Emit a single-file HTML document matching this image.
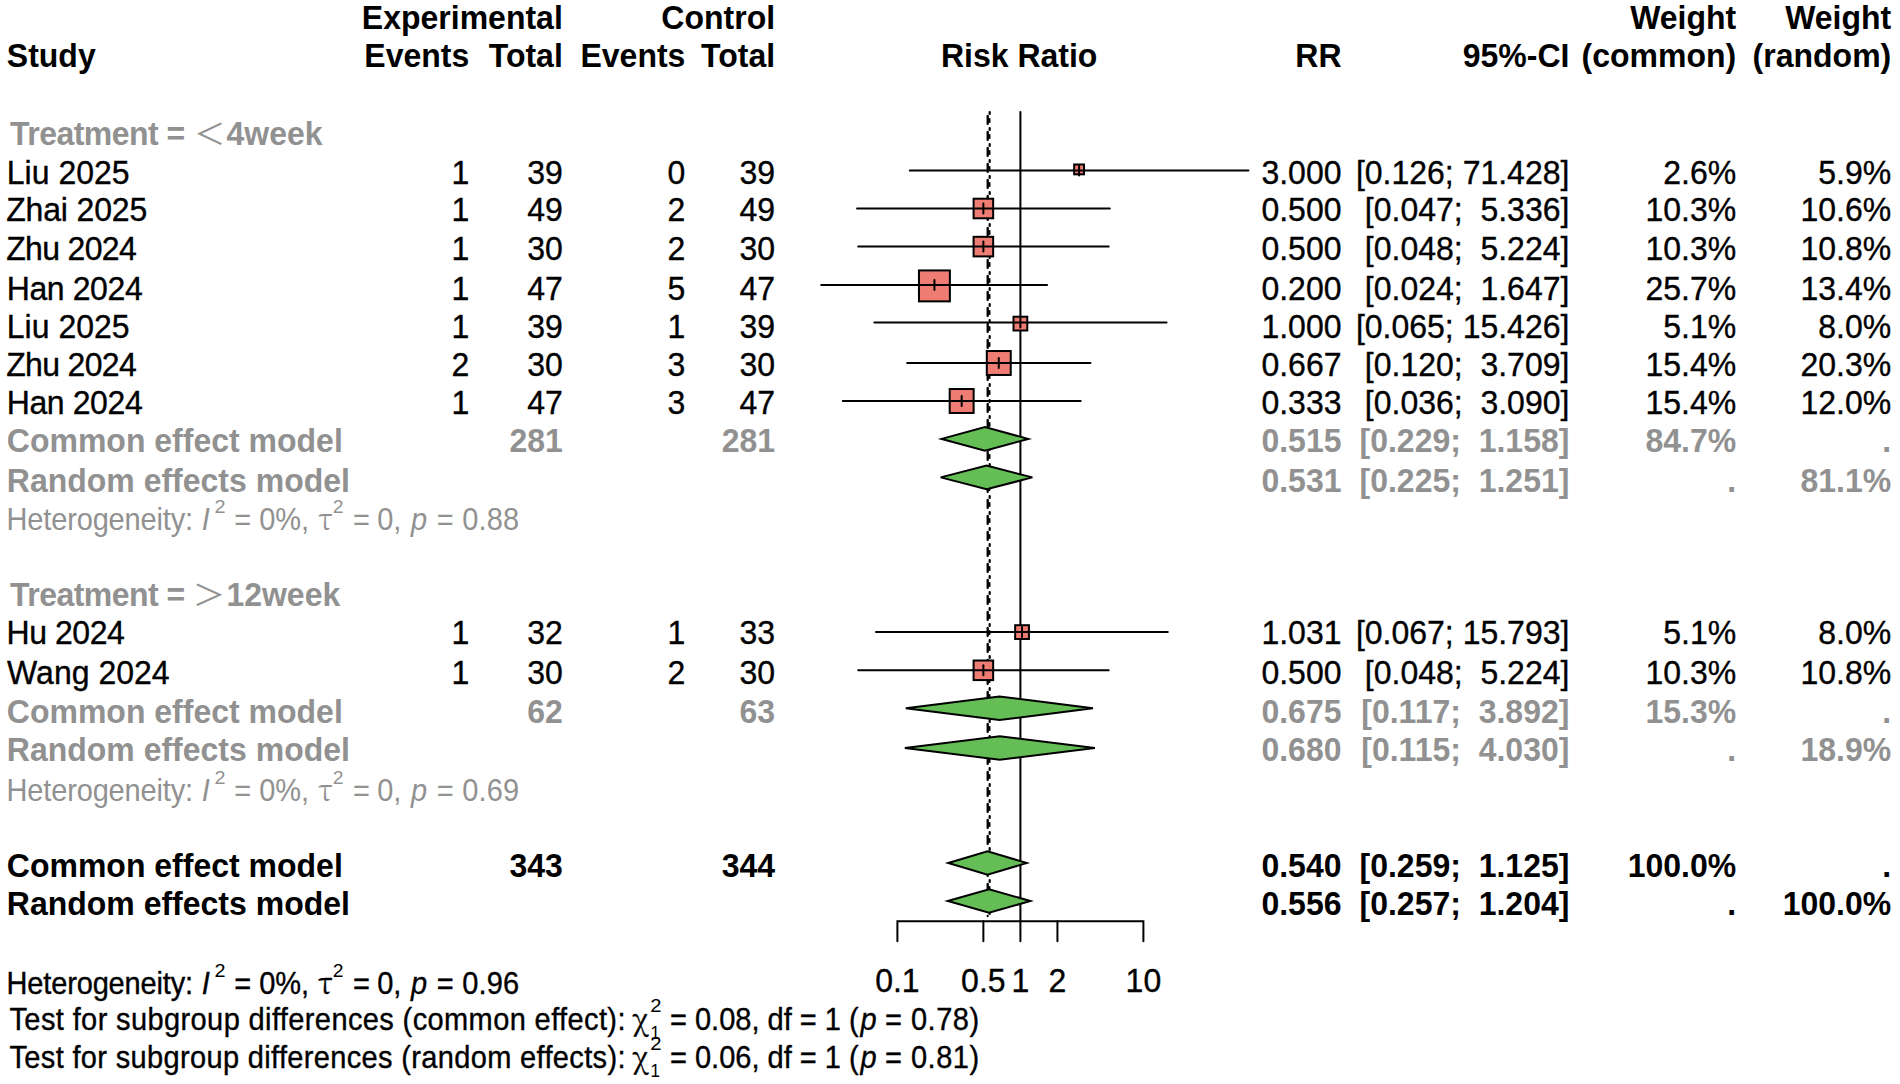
<!DOCTYPE html>
<html><head><meta charset="utf-8"><title>Forest plot</title>
<style>
html,body{margin:0;padding:0;background:#fff;}
svg{display:block;}
text{white-space:pre;}
</style></head>
<body>
<svg width="1900" height="1084" viewBox="0 0 1900 1084" xml:space="preserve" font-family="'Liberation Sans', Arial, 'Noto Sans CJK SC', sans-serif" font-size="32">
<rect width="1900" height="1084" fill="#fff"/>
<line x1="1020.4" y1="112" x2="1020.4" y2="921.2" stroke="#000" stroke-width="2" stroke-linecap="round"/>
<line x1="987.7" y1="111" x2="987.7" y2="916" stroke="#000" stroke-width="2.3" stroke-linecap="round" stroke-dasharray="8 8" stroke-dashoffset="11.1"/>
<line x1="989.7" y1="111" x2="989.7" y2="916" stroke="#000" stroke-width="2.2" stroke-linecap="round" stroke-dasharray="2 14" stroke-dashoffset="15"/>
<line x1="989.4" y1="111" x2="989.4" y2="916" stroke="#000" stroke-width="2.2" stroke-linecap="round" stroke-dasharray="3 13" stroke-dashoffset="8"/>
<rect x="1074.17" y="164.48" width="9.84" height="9.84" fill="#F07D73" stroke="#000" stroke-width="2" stroke-linecap="round"/>
<line x1="909.75" y1="170.4" x2="1248.43" y2="170.4" stroke="#000" stroke-width="2" stroke-linecap="round"/>
<line x1="1079.09" y1="165.4" x2="1079.09" y2="175.4" stroke="#000" stroke-width="2" stroke-linecap="round"/>
<rect x="973.58" y="198.71" width="19.58" height="19.58" fill="#F07D73" stroke="#000" stroke-width="2" stroke-linecap="round"/>
<line x1="857.07" y1="208.5" x2="1109.85" y2="208.5" stroke="#000" stroke-width="2" stroke-linecap="round"/>
<line x1="983.37" y1="203.5" x2="983.37" y2="213.5" stroke="#000" stroke-width="2" stroke-linecap="round"/>
<rect x="973.58" y="236.81" width="19.58" height="19.58" fill="#F07D73" stroke="#000" stroke-width="2" stroke-linecap="round"/>
<line x1="858.19" y1="246.6" x2="1108.71" y2="246.6" stroke="#000" stroke-width="2" stroke-linecap="round"/>
<line x1="983.37" y1="241.6" x2="983.37" y2="251.6" stroke="#000" stroke-width="2" stroke-linecap="round"/>
<rect x="918.96" y="270.44" width="30.92" height="30.92" fill="#F07D73" stroke="#000" stroke-width="2" stroke-linecap="round"/>
<line x1="821.17" y1="284.9" x2="1047.05" y2="284.9" stroke="#000" stroke-width="2" stroke-linecap="round"/>
<line x1="934.43" y1="279.9" x2="934.43" y2="289.9" stroke="#000" stroke-width="2" stroke-linecap="round"/>
<rect x="1013.51" y="316.71" width="13.78" height="13.78" fill="#F07D73" stroke="#000" stroke-width="2" stroke-linecap="round"/>
<line x1="874.39" y1="322.6" x2="1166.56" y2="322.6" stroke="#000" stroke-width="2" stroke-linecap="round"/>
<line x1="1020.40" y1="317.6" x2="1020.40" y2="327.6" stroke="#000" stroke-width="2" stroke-linecap="round"/>
<rect x="986.80" y="351.03" width="23.94" height="23.94" fill="#F07D73" stroke="#000" stroke-width="2" stroke-linecap="round"/>
<line x1="907.14" y1="363.0" x2="1090.42" y2="363.0" stroke="#000" stroke-width="2" stroke-linecap="round"/>
<line x1="998.77" y1="358.0" x2="998.77" y2="368.0" stroke="#000" stroke-width="2" stroke-linecap="round"/>
<rect x="949.69" y="389.03" width="23.94" height="23.94" fill="#F07D73" stroke="#000" stroke-width="2" stroke-linecap="round"/>
<line x1="842.83" y1="401.0" x2="1080.66" y2="401.0" stroke="#000" stroke-width="2" stroke-linecap="round"/>
<line x1="961.66" y1="396.0" x2="961.66" y2="406.0" stroke="#000" stroke-width="2" stroke-linecap="round"/>
<rect x="1015.14" y="625.21" width="13.78" height="13.78" fill="#F07D73" stroke="#000" stroke-width="2" stroke-linecap="round"/>
<line x1="876.01" y1="632.1" x2="1167.81" y2="632.1" stroke="#000" stroke-width="2" stroke-linecap="round"/>
<line x1="1022.03" y1="627.1" x2="1022.03" y2="637.1" stroke="#000" stroke-width="2" stroke-linecap="round"/>
<rect x="973.58" y="660.51" width="19.58" height="19.58" fill="#F07D73" stroke="#000" stroke-width="2" stroke-linecap="round"/>
<line x1="858.19" y1="670.3" x2="1108.71" y2="670.3" stroke="#000" stroke-width="2" stroke-linecap="round"/>
<line x1="983.37" y1="665.3" x2="983.37" y2="675.3" stroke="#000" stroke-width="2" stroke-linecap="round"/>
<polygon points="941.66,438.9 984.95,427.09999999999997 1028.24,438.9 984.95,450.7" fill="#64BE55" stroke="#000" stroke-width="2" stroke-linejoin="miter"/>
<polygon points="940.72,477.4 986.59,465.59999999999997 1032.36,477.4 986.59,489.2" fill="#64BE55" stroke="#000" stroke-width="2" stroke-linejoin="miter"/>
<polygon points="905.79,708.2 999.40,696.4000000000001 1092.99,708.2 999.40,720.0" fill="#64BE55" stroke="#000" stroke-width="2" stroke-linejoin="miter"/>
<polygon points="904.87,748.0 999.80,736.2 1094.85,748.0 999.80,759.8" fill="#64BE55" stroke="#000" stroke-width="2" stroke-linejoin="miter"/>
<polygon points="948.24,863.0 987.48,851.2 1026.69,863.0 987.48,874.8" fill="#64BE55" stroke="#000" stroke-width="2" stroke-linejoin="miter"/>
<polygon points="947.82,901.0 989.04,889.2 1030.32,901.0 989.04,912.8" fill="#64BE55" stroke="#000" stroke-width="2" stroke-linejoin="miter"/>
<polyline points="897.40,941.3 897.40,921.2 1143.40,921.2 1143.40,941.3" fill="none" stroke="#000" stroke-width="2" stroke-linecap="round"/>
<line x1="983.37" y1="921.2" x2="983.37" y2="941.3" stroke="#000" stroke-width="2" stroke-linecap="round"/>
<line x1="1020.40" y1="921.2" x2="1020.40" y2="941.3" stroke="#000" stroke-width="2" stroke-linecap="round"/>
<line x1="1057.43" y1="921.2" x2="1057.43" y2="941.3" stroke="#000" stroke-width="2" stroke-linecap="round"/>
<g transform="scale(1,1.06)">
<text x="562.80" y="27.17" text-anchor="end" font-weight="bold">Experimental</text>
<text x="775.10" y="27.17" text-anchor="end" font-weight="bold">Control</text>
<text x="1736.25" y="27.17" text-anchor="end" font-weight="bold">Weight</text>
<text x="1891.25" y="27.17" text-anchor="end" font-weight="bold">Weight</text>
<text x="6.80" y="62.83" font-weight="bold">Study</text>
<text x="469.30" y="62.83" text-anchor="end" font-weight="bold">Events</text>
<text x="562.80" y="62.83" text-anchor="end" font-weight="bold">Total</text>
<text x="685.40" y="62.83" text-anchor="end" font-weight="bold">Events</text>
<text x="775.10" y="62.83" text-anchor="end" font-weight="bold">Total</text>
<text x="1341.50" y="62.83" text-anchor="end" font-weight="bold">RR</text>
<text x="1569.39" y="62.83" text-anchor="end" font-weight="bold">95%-CI</text>
<text x="1736.25" y="62.83" text-anchor="end" font-weight="bold">(common)</text>
<text x="1891.25" y="62.83" text-anchor="end" font-weight="bold">(random)</text>
<text x="1019.20" y="63.68" text-anchor="middle" font-weight="bold">Risk Ratio</text>
<text x="10.00" y="136.70" font-size="32" font-weight="bold" fill="#919191" textLength="175.09" lengthAdjust="spacing">Treatment =</text>
<text x="193.70" y="136.70" font-size="27.5" font-family="'Noto Sans CJK SC', sans-serif" fill="#919191" textLength="31.68" lengthAdjust="spacingAndGlyphs">＜</text>
<text x="226.50" y="136.70" font-size="32" font-weight="bold" fill="#919191">4week</text>
<text x="10.00" y="571.98" font-size="32" font-weight="bold" fill="#919191" textLength="175.09" lengthAdjust="spacing">Treatment =</text>
<text x="192.39" y="571.98" font-size="27.5" font-family="'Noto Sans CJK SC', sans-serif" fill="#919191" textLength="33.12" lengthAdjust="spacingAndGlyphs">＞</text>
<text x="226.40" y="571.98" font-size="32" font-weight="bold" fill="#919191">12week</text>
<text x="6.80" y="173.30" font-size="32" fill="#000" stroke="#000" stroke-width="0.35">Liu 2025</text>
<text x="469.30" y="173.30" text-anchor="end" stroke="#000" stroke-width="0.35">1</text>
<text x="562.80" y="173.30" text-anchor="end" stroke="#000" stroke-width="0.35">39</text>
<text x="685.40" y="173.30" text-anchor="end" stroke="#000" stroke-width="0.35">0</text>
<text x="775.10" y="173.30" text-anchor="end" stroke="#000" stroke-width="0.35">39</text>
<text x="1341.50" y="173.30" text-anchor="end" stroke="#000" stroke-width="0.35">3.000</text>
<text x="1569.39" y="173.30" text-anchor="end" stroke="#000" stroke-width="0.35">[0.126; 71.428]</text>
<text x="1736.25" y="173.30" text-anchor="end" stroke="#000" stroke-width="0.35">2.6%</text>
<text x="1891.25" y="173.30" text-anchor="end" stroke="#000" stroke-width="0.35">5.9%</text>
<text x="6.20" y="208.96" font-size="32" fill="#000" stroke="#000" stroke-width="0.35" textLength="141.10" lengthAdjust="spacing">Zhai 2025</text>
<text x="469.30" y="208.96" text-anchor="end" stroke="#000" stroke-width="0.35">1</text>
<text x="562.80" y="208.96" text-anchor="end" stroke="#000" stroke-width="0.35">49</text>
<text x="685.40" y="208.96" text-anchor="end" stroke="#000" stroke-width="0.35">2</text>
<text x="775.10" y="208.96" text-anchor="end" stroke="#000" stroke-width="0.35">49</text>
<text x="1341.50" y="208.96" text-anchor="end" stroke="#000" stroke-width="0.35">0.500</text>
<text x="1569.39" y="208.96" text-anchor="end" stroke="#000" stroke-width="0.35">[0.047;  5.336]</text>
<text x="1736.25" y="208.96" text-anchor="end" stroke="#000" stroke-width="0.35">10.3%</text>
<text x="1891.25" y="208.96" text-anchor="end" stroke="#000" stroke-width="0.35">10.6%</text>
<text x="6.20" y="244.91" font-size="32" fill="#000" stroke="#000" stroke-width="0.35" textLength="130.60" lengthAdjust="spacing">Zhu 2024</text>
<text x="469.30" y="244.91" text-anchor="end" stroke="#000" stroke-width="0.35">1</text>
<text x="562.80" y="244.91" text-anchor="end" stroke="#000" stroke-width="0.35">30</text>
<text x="685.40" y="244.91" text-anchor="end" stroke="#000" stroke-width="0.35">2</text>
<text x="775.10" y="244.91" text-anchor="end" stroke="#000" stroke-width="0.35">30</text>
<text x="1341.50" y="244.91" text-anchor="end" stroke="#000" stroke-width="0.35">0.500</text>
<text x="1569.39" y="244.91" text-anchor="end" stroke="#000" stroke-width="0.35">[0.048;  5.224]</text>
<text x="1736.25" y="244.91" text-anchor="end" stroke="#000" stroke-width="0.35">10.3%</text>
<text x="1891.25" y="244.91" text-anchor="end" stroke="#000" stroke-width="0.35">10.8%</text>
<text x="6.80" y="283.11" font-size="32" fill="#000" stroke="#000" stroke-width="0.35" textLength="135.90" lengthAdjust="spacing">Han 2024</text>
<text x="469.30" y="283.11" text-anchor="end" stroke="#000" stroke-width="0.35">1</text>
<text x="562.80" y="283.11" text-anchor="end" stroke="#000" stroke-width="0.35">47</text>
<text x="685.40" y="283.11" text-anchor="end" stroke="#000" stroke-width="0.35">5</text>
<text x="775.10" y="283.11" text-anchor="end" stroke="#000" stroke-width="0.35">47</text>
<text x="1341.50" y="283.11" text-anchor="end" stroke="#000" stroke-width="0.35">0.200</text>
<text x="1569.39" y="283.11" text-anchor="end" stroke="#000" stroke-width="0.35">[0.024;  1.647]</text>
<text x="1736.25" y="283.11" text-anchor="end" stroke="#000" stroke-width="0.35">25.7%</text>
<text x="1891.25" y="283.11" text-anchor="end" stroke="#000" stroke-width="0.35">13.4%</text>
<text x="6.80" y="318.49" font-size="32" fill="#000" stroke="#000" stroke-width="0.35">Liu 2025</text>
<text x="469.30" y="318.49" text-anchor="end" stroke="#000" stroke-width="0.35">1</text>
<text x="562.80" y="318.49" text-anchor="end" stroke="#000" stroke-width="0.35">39</text>
<text x="685.40" y="318.49" text-anchor="end" stroke="#000" stroke-width="0.35">1</text>
<text x="775.10" y="318.49" text-anchor="end" stroke="#000" stroke-width="0.35">39</text>
<text x="1341.50" y="318.49" text-anchor="end" stroke="#000" stroke-width="0.35">1.000</text>
<text x="1569.39" y="318.49" text-anchor="end" stroke="#000" stroke-width="0.35">[0.065; 15.426]</text>
<text x="1736.25" y="318.49" text-anchor="end" stroke="#000" stroke-width="0.35">5.1%</text>
<text x="1891.25" y="318.49" text-anchor="end" stroke="#000" stroke-width="0.35">8.0%</text>
<text x="6.20" y="354.43" font-size="32" fill="#000" stroke="#000" stroke-width="0.35" textLength="130.60" lengthAdjust="spacing">Zhu 2024</text>
<text x="469.30" y="354.43" text-anchor="end" stroke="#000" stroke-width="0.35">2</text>
<text x="562.80" y="354.43" text-anchor="end" stroke="#000" stroke-width="0.35">30</text>
<text x="685.40" y="354.43" text-anchor="end" stroke="#000" stroke-width="0.35">3</text>
<text x="775.10" y="354.43" text-anchor="end" stroke="#000" stroke-width="0.35">30</text>
<text x="1341.50" y="354.43" text-anchor="end" stroke="#000" stroke-width="0.35">0.667</text>
<text x="1569.39" y="354.43" text-anchor="end" stroke="#000" stroke-width="0.35">[0.120;  3.709]</text>
<text x="1736.25" y="354.43" text-anchor="end" stroke="#000" stroke-width="0.35">15.4%</text>
<text x="1891.25" y="354.43" text-anchor="end" stroke="#000" stroke-width="0.35">20.3%</text>
<text x="6.80" y="390.19" font-size="32" fill="#000" stroke="#000" stroke-width="0.35" textLength="135.90" lengthAdjust="spacing">Han 2024</text>
<text x="469.30" y="390.19" text-anchor="end" stroke="#000" stroke-width="0.35">1</text>
<text x="562.80" y="390.19" text-anchor="end" stroke="#000" stroke-width="0.35">47</text>
<text x="685.40" y="390.19" text-anchor="end" stroke="#000" stroke-width="0.35">3</text>
<text x="775.10" y="390.19" text-anchor="end" stroke="#000" stroke-width="0.35">47</text>
<text x="1341.50" y="390.19" text-anchor="end" stroke="#000" stroke-width="0.35">0.333</text>
<text x="1569.39" y="390.19" text-anchor="end" stroke="#000" stroke-width="0.35">[0.036;  3.090]</text>
<text x="1736.25" y="390.19" text-anchor="end" stroke="#000" stroke-width="0.35">15.4%</text>
<text x="1891.25" y="390.19" text-anchor="end" stroke="#000" stroke-width="0.35">12.0%</text>
<text x="6.50" y="607.92" font-size="32" fill="#000" stroke="#000" stroke-width="0.35" textLength="118.40" lengthAdjust="spacing">Hu 2024</text>
<text x="469.30" y="607.92" text-anchor="end" stroke="#000" stroke-width="0.35">1</text>
<text x="562.80" y="607.92" text-anchor="end" stroke="#000" stroke-width="0.35">32</text>
<text x="685.40" y="607.92" text-anchor="end" stroke="#000" stroke-width="0.35">1</text>
<text x="775.10" y="607.92" text-anchor="end" stroke="#000" stroke-width="0.35">33</text>
<text x="1341.50" y="607.92" text-anchor="end" stroke="#000" stroke-width="0.35">1.031</text>
<text x="1569.39" y="607.92" text-anchor="end" stroke="#000" stroke-width="0.35">[0.067; 15.793]</text>
<text x="1736.25" y="607.92" text-anchor="end" stroke="#000" stroke-width="0.35">5.1%</text>
<text x="1891.25" y="607.92" text-anchor="end" stroke="#000" stroke-width="0.35">8.0%</text>
<text x="7.10" y="645.28" font-size="32" fill="#000" stroke="#000" stroke-width="0.35">Wang 2024</text>
<text x="469.30" y="645.28" text-anchor="end" stroke="#000" stroke-width="0.35">1</text>
<text x="562.80" y="645.28" text-anchor="end" stroke="#000" stroke-width="0.35">30</text>
<text x="685.40" y="645.28" text-anchor="end" stroke="#000" stroke-width="0.35">2</text>
<text x="775.10" y="645.28" text-anchor="end" stroke="#000" stroke-width="0.35">30</text>
<text x="1341.50" y="645.28" text-anchor="end" stroke="#000" stroke-width="0.35">0.500</text>
<text x="1569.39" y="645.28" text-anchor="end" stroke="#000" stroke-width="0.35">[0.048;  5.224]</text>
<text x="1736.25" y="645.28" text-anchor="end" stroke="#000" stroke-width="0.35">10.3%</text>
<text x="1891.25" y="645.28" text-anchor="end" stroke="#000" stroke-width="0.35">10.8%</text>
<text x="6.80" y="426.04" font-weight="bold" fill="#919191">Common effect model</text>
<text x="562.80" y="426.04" text-anchor="end" font-weight="bold" fill="#919191">281</text>
<text x="775.10" y="426.04" text-anchor="end" font-weight="bold" fill="#919191">281</text>
<text x="1341.50" y="426.04" text-anchor="end" font-weight="bold" fill="#919191">0.515</text>
<text x="1569.39" y="426.04" text-anchor="end" font-weight="bold" fill="#919191">[0.229;  1.158]</text>
<text x="1736.25" y="426.04" text-anchor="end" font-weight="bold" fill="#919191">84.7%</text>
<text x="1891.25" y="426.04" text-anchor="end" font-weight="bold" fill="#919191">.</text>
<text x="6.80" y="464.25" font-weight="bold" fill="#919191">Random effects model</text>
<text x="1341.50" y="464.25" text-anchor="end" font-weight="bold" fill="#919191">0.531</text>
<text x="1569.39" y="464.25" text-anchor="end" font-weight="bold" fill="#919191">[0.225;  1.251]</text>
<text x="1736.25" y="464.25" text-anchor="end" font-weight="bold" fill="#919191">.</text>
<text x="1891.25" y="464.25" text-anchor="end" font-weight="bold" fill="#919191">81.1%</text>
<text x="6.80" y="682.26" font-weight="bold" fill="#919191">Common effect model</text>
<text x="562.80" y="682.26" text-anchor="end" font-weight="bold" fill="#919191">62</text>
<text x="775.10" y="682.26" text-anchor="end" font-weight="bold" fill="#919191">63</text>
<text x="1341.50" y="682.26" text-anchor="end" font-weight="bold" fill="#919191">0.675</text>
<text x="1569.39" y="682.26" text-anchor="end" font-weight="bold" fill="#919191">[0.117;  3.892]</text>
<text x="1736.25" y="682.26" text-anchor="end" font-weight="bold" fill="#919191">15.3%</text>
<text x="1891.25" y="682.26" text-anchor="end" font-weight="bold" fill="#919191">.</text>
<text x="6.80" y="717.74" font-weight="bold" fill="#919191">Random effects model</text>
<text x="1341.50" y="717.74" text-anchor="end" font-weight="bold" fill="#919191">0.680</text>
<text x="1569.39" y="717.74" text-anchor="end" font-weight="bold" fill="#919191">[0.115;  4.030]</text>
<text x="1736.25" y="717.74" text-anchor="end" font-weight="bold" fill="#919191">.</text>
<text x="1891.25" y="717.74" text-anchor="end" font-weight="bold" fill="#919191">18.9%</text>
<text x="6.80" y="827.45" font-weight="bold">Common effect model</text>
<text x="562.80" y="827.45" text-anchor="end" font-weight="bold">343</text>
<text x="775.10" y="827.45" text-anchor="end" font-weight="bold">344</text>
<text x="1341.50" y="827.45" text-anchor="end" font-weight="bold">0.540</text>
<text x="1569.39" y="827.45" text-anchor="end" font-weight="bold">[0.259;  1.125]</text>
<text x="1736.25" y="827.45" text-anchor="end" font-weight="bold">100.0%</text>
<text x="1891.25" y="827.45" text-anchor="end" font-weight="bold">.</text>
<text x="6.80" y="862.92" font-weight="bold">Random effects model</text>
<text x="1341.50" y="862.92" text-anchor="end" font-weight="bold">0.556</text>
<text x="1569.39" y="862.92" text-anchor="end" font-weight="bold">[0.257;  1.204]</text>
<text x="1736.25" y="862.92" text-anchor="end" font-weight="bold">.</text>
<text x="1891.25" y="862.92" text-anchor="end" font-weight="bold">100.0%</text>
<text x="897.40" y="936.04" text-anchor="middle" stroke="#000" stroke-width="0.35">0.1</text>
<text x="983.37" y="936.04" text-anchor="middle" stroke="#000" stroke-width="0.35">0.5</text>
<text x="1020.40" y="936.04" text-anchor="middle" stroke="#000" stroke-width="0.35">1</text>
<text x="1057.43" y="936.04" text-anchor="middle" stroke="#000" stroke-width="0.35">2</text>
<text x="1143.40" y="936.04" text-anchor="middle" stroke="#000" stroke-width="0.35">10</text>
<text x="6.50" y="500.00" font-size="29" fill="#919191" textLength="186.66" lengthAdjust="spacing">Heterogeneity:</text>
<text x="201.80" y="500.00" font-size="29" font-style="italic" fill="#919191">I</text>
<text x="214.50" y="483.96" font-size="17" fill="#919191" textLength="11.03" lengthAdjust="spacingAndGlyphs">2</text>
<text x="234.20" y="500.00" font-size="29" fill="#919191">= 0%,</text>
<text x="318.00" y="500.00" font-size="29" font-family="'Noto Serif CJK SC', serif" fill="#919191">τ</text>
<text x="332.80" y="483.96" font-size="17" fill="#919191" textLength="10.72" lengthAdjust="spacingAndGlyphs">2</text>
<text x="353.00" y="500.00" font-size="29" fill="#919191" textLength="48.26" lengthAdjust="spacing">= 0,</text>
<text x="411.00" y="500.00" font-size="29" font-style="italic" fill="#919191">p</text>
<text x="436.80" y="500.00" font-size="29" fill="#919191" textLength="82.33" lengthAdjust="spacing">= 0.88</text>
<text x="6.50" y="755.38" font-size="29" fill="#919191" textLength="186.66" lengthAdjust="spacing">Heterogeneity:</text>
<text x="201.80" y="755.38" font-size="29" font-style="italic" fill="#919191">I</text>
<text x="214.50" y="739.34" font-size="17" fill="#919191" textLength="11.03" lengthAdjust="spacingAndGlyphs">2</text>
<text x="234.20" y="755.38" font-size="29" fill="#919191">= 0%,</text>
<text x="318.00" y="755.38" font-size="29" font-family="'Noto Serif CJK SC', serif" fill="#919191">τ</text>
<text x="332.80" y="739.34" font-size="17" fill="#919191" textLength="10.72" lengthAdjust="spacingAndGlyphs">2</text>
<text x="353.00" y="755.38" font-size="29" fill="#919191" textLength="48.26" lengthAdjust="spacing">= 0,</text>
<text x="411.00" y="755.38" font-size="29" font-style="italic" fill="#919191">p</text>
<text x="436.80" y="755.38" font-size="29" fill="#919191" textLength="82.33" lengthAdjust="spacing">= 0.69</text>
<text x="6.50" y="937.64" font-size="29" fill="#000" stroke="#000" stroke-width="0.35" textLength="186.66" lengthAdjust="spacing">Heterogeneity:</text>
<text x="201.80" y="937.64" font-size="29" font-style="italic" fill="#000" stroke="#000" stroke-width="0.35">I</text>
<text x="214.50" y="921.60" font-size="17" fill="#000" textLength="11.03" lengthAdjust="spacingAndGlyphs">2</text>
<text x="234.20" y="937.64" font-size="29" fill="#000" stroke="#000" stroke-width="0.35">= 0%,</text>
<text x="318.00" y="937.64" font-size="29" font-family="'Noto Serif CJK SC', serif" fill="#000" stroke="#000" stroke-width="0.35">τ</text>
<text x="332.80" y="921.60" font-size="17" fill="#000" textLength="10.72" lengthAdjust="spacingAndGlyphs">2</text>
<text x="353.00" y="937.64" font-size="29" fill="#000" stroke="#000" stroke-width="0.35" textLength="48.26" lengthAdjust="spacing">= 0,</text>
<text x="411.00" y="937.64" font-size="29" font-style="italic" fill="#000" stroke="#000" stroke-width="0.35">p</text>
<text x="436.80" y="937.64" font-size="29" fill="#000" stroke="#000" stroke-width="0.35" textLength="82.33" lengthAdjust="spacing">= 0.96</text>
<text x="9.50" y="971.79" font-size="29" fill="#000" stroke="#000" stroke-width="0.35" textLength="615.96" lengthAdjust="spacing">Test for subgroup differences (common effect):</text>
<text x="632.40" y="971.79" font-size="29" font-family="'Noto Serif CJK SC', serif" fill="#000" stroke="#000" stroke-width="0.35" textLength="14.59" lengthAdjust="spacing">χ</text>
<text x="650.30" y="954.72" font-size="17" fill="#000" textLength="11.24" lengthAdjust="spacingAndGlyphs">2</text>
<text x="650.60" y="980.28" font-size="17" fill="#000">1</text>
<text x="670.00" y="971.79" font-size="29" fill="#000" stroke="#000" stroke-width="0.35">= 0.08, df = 1 (</text>
<text x="860.50" y="971.79" font-size="29" font-style="italic" fill="#000" stroke="#000" stroke-width="0.35">p</text>
<text x="884.90" y="971.79" font-size="29" fill="#000" stroke="#000" stroke-width="0.35" textLength="94.26" lengthAdjust="spacing">= 0.78)</text>
<text x="9.50" y="1007.45" font-size="29" fill="#000" stroke="#000" stroke-width="0.35" textLength="615.96" lengthAdjust="spacing">Test for subgroup differences (random effects):</text>
<text x="632.40" y="1007.45" font-size="29" font-family="'Noto Serif CJK SC', serif" fill="#000" stroke="#000" stroke-width="0.35" textLength="14.59" lengthAdjust="spacing">χ</text>
<text x="650.30" y="990.38" font-size="17" fill="#000" textLength="11.24" lengthAdjust="spacingAndGlyphs">2</text>
<text x="650.60" y="1015.94" font-size="17" fill="#000">1</text>
<text x="670.00" y="1007.45" font-size="29" fill="#000" stroke="#000" stroke-width="0.35">= 0.06, df = 1 (</text>
<text x="860.50" y="1007.45" font-size="29" font-style="italic" fill="#000" stroke="#000" stroke-width="0.35">p</text>
<text x="884.90" y="1007.45" font-size="29" fill="#000" stroke="#000" stroke-width="0.35" textLength="94.26" lengthAdjust="spacing">= 0.81)</text>
</g>
</svg>
</body></html>
